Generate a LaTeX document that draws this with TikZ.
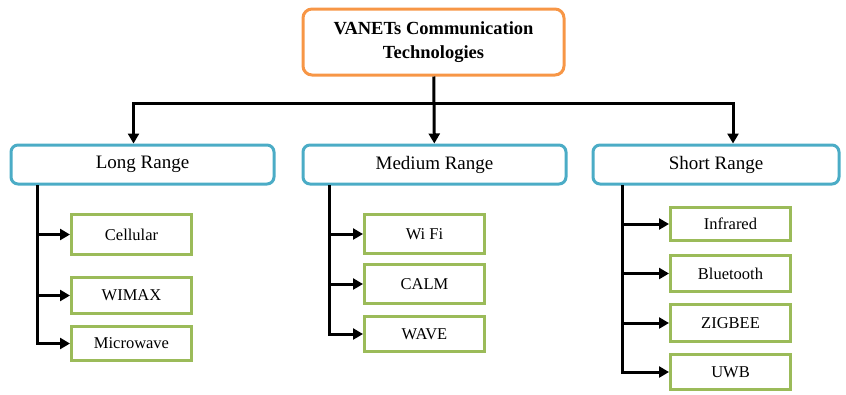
\documentclass[tikz,border=0pt]{standalone}
\usepackage{fontspec}
\setmainfont{Liberation Serif}
\usepackage{tikz}
\usetikzlibrary{arrows.meta}

\definecolor{topline}{HTML}{F79646}
\definecolor{rangeline}{HTML}{4BACC6}
\definecolor{techline}{HTML}{9BBB59}

\begin{document}
\begin{tikzpicture}[x=1pt, y=-1pt,
    every node/.style={align=center, inner sep=2pt},
    topbox/.style={draw=topline, line width=3pt, rounded corners=9pt,
                   minimum width=261pt, minimum height=66pt,
                   font=\fontsize{18.5}{24}\selectfont\bfseries},
    rangebox/.style={draw=rangeline, line width=3pt, rounded corners=7pt,
                     minimum height=39pt, font=\fontsize{19}{22}\selectfont},
    techbox/.style={draw=techline, line width=3pt, minimum width=120pt,
                    font=\fontsize{16.5}{20}\selectfont},
    arr/.style={line width=3pt, -{Triangle[length=10pt,width=11pt]}}]
    \useasboundingbox (0,0) rectangle (846,394);

    % root and the three ranges
    \node[topbox] (root) at (433.5,42) {VANETs Communication\\Technologies};
    \node[rangebox, minimum width=263pt] (lr) at (142.5,164.5) {Long Range};
    \node[rangebox, minimum width=263pt] (mr) at (434.5,164.5) {Medium Range};
    \node[rangebox, minimum width=246pt] (sr) at (716,164.5)   {Short Range};

    % technologies
    \node[techbox, minimum height=40pt] (cell)  at (131.5,234.5) {Cellular};
    \node[techbox, minimum height=36pt] (wimax) at (131.5,295.5) {WIMAX};
    \node[techbox, minimum height=34pt] (micro) at (131.5,343.5) {Microwave};

    \node[techbox, minimum height=39pt] (wifi)  at (424.5,234) {Wi Fi};
    \node[techbox, minimum height=39pt] (calm)  at (424.5,284) {CALM};
    \node[techbox, minimum height=35pt] (wave)  at (424.5,334) {WAVE};

    \node[techbox, minimum height=33pt] (infra) at (730.5,224)   {Infrared};
    \node[techbox, minimum height=36pt] (blue)  at (730.5,273.5) {Bluetooth};
    \node[techbox, minimum height=37pt] (zig)   at (730.5,323)   {ZIGBEE};
    \node[techbox, minimum height=35pt] (uwb)   at (730.5,372)   {UWB};

    % connectors
    \coordinate (split) at (433.5,103);
    \coordinate (lrt) at (37,185);
    \coordinate (mrt) at (329,185);
    \coordinate (srt) at (622,185);

    \draw[arr] (root) -- (mr);
    \draw[arr] (split) -| ([xshift=-9pt]lr.north);
    \draw[arr] (split) -| ([xshift=17pt]sr.north);

    \draw[arr] (lrt) |- (cell.west);
    \draw[arr] (lrt) |- (wimax.west);
    \draw[arr] (lrt) |- (micro.west);

    \draw[arr] (mrt) |- (wifi.west);
    \draw[arr] (mrt) |- (calm.west);
    \draw[arr] (mrt) |- (wave.west);

    \draw[arr] (srt) |- (infra.west);
    \draw[arr] (srt) |- (blue.west);
    \draw[arr] (srt) |- (zig.west);
    \draw[arr] (srt) |- (uwb.west);
  \end{tikzpicture}
\end{document}
